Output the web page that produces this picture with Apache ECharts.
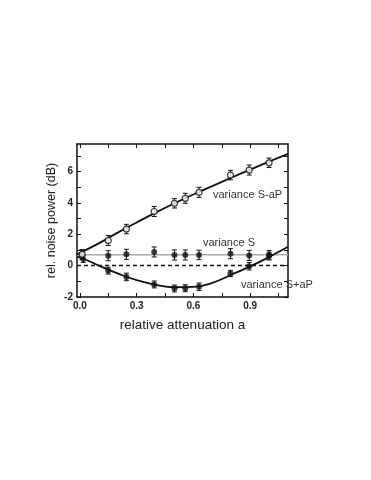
<html>
<head>
    <meta charset="utf-8">
    <script src="https://cdn.jsdelivr.net/npm/echarts@6/dist/echarts.min.js"></script>
    <style>
        body { margin: 0; background: #fff; }
        #main { width: 371px; height: 480px; }
    </style>
</head>
<body>
    <div id="main"></div>
    <script>
        // measured points (a, dB, error)
        var sMinusAP = [[0.012, 0.72, 0.3], [0.15, 1.6, 0.32], [0.246, 2.33, 0.3], [0.393, 3.45, 0.32], [0.5, 3.97, 0.3],
            [0.557, 4.29, 0.32], [0.63, 4.67, 0.32], [0.796, 5.77, 0.3], [0.895, 6.09, 0.32], [1.0, 6.55, 0.3]];
        var varS = [[0.012, 0.7, 0.3], [0.15, 0.63, 0.32], [0.246, 0.72, 0.32], [0.393, 0.87, 0.32], [0.5, 0.68, 0.32],
            [0.557, 0.68, 0.32], [0.63, 0.68, 0.3], [0.796, 0.76, 0.32], [0.895, 0.65, 0.32], [1.0, 0.66, 0.3]];
        var sPlusAP = [[0.018, 0.42, 0.22], [0.15, -0.32, 0.22], [0.246, -0.72, 0.24], [0.393, -1.2, 0.22], [0.5, -1.46, 0.22],
            [0.557, -1.44, 0.22], [0.63, -1.35, 0.24], [0.796, -0.5, 0.2], [0.895, -0.04, 0.24], [1.0, 0.63, 0.22]];

        // fitted curves
        var fitMinus = [[-0.015, 0.72], [0.1, 1.42], [0.2, 2.1], [0.3, 2.75], [0.4, 3.38], [0.5, 3.97], [0.6, 4.53],
            [0.7, 5.07], [0.8, 5.6], [0.9, 6.12], [1.0, 6.63], [1.1, 7.12]];
        var fitPlus = [[-0.015, 0.58], [0.05, 0.28], [0.1, 0.0], [0.2, -0.5], [0.3, -0.92], [0.4, -1.22], [0.5, -1.38],
            [0.6, -1.36], [0.7, -1.1], [0.8, -0.58], [0.9, -0.05], [1.0, 0.55], [1.1, 1.2]];
        var shotNoise = 0.7;

        var xLabels = [0, 0.3, 0.6, 0.9];
        var xTicks = [0, 0.15, 0.3, 0.45, 0.6, 0.75, 0.9, 1.05];
        var yLabels = [-2, 0, 2, 4, 6];
        var yTicks = [-2, -1, 0, 1, 2, 3, 4, 5, 6, 7];

        var chart = echarts.init(document.getElementById('main'));

        function errorBars(params, api) {
            var x = api.value(0), y = api.value(1), e = api.value(2);
            var hi = api.coord([x, y + e]);
            var lo = api.coord([x, y - e]);
            var w = 2.5;
            var st = { stroke: '#111', lineWidth: 1 };
            return {
                type: 'group',
                children: [
                    { type: 'line', shape: { x1: hi[0], y1: hi[1], x2: lo[0], y2: lo[1] }, style: st },
                    { type: 'line', shape: { x1: hi[0] - w, y1: hi[1], x2: hi[0] + w, y2: hi[1] }, style: st },
                    { type: 'line', shape: { x1: lo[0] - w, y1: lo[1], x2: lo[0] + w, y2: lo[1] }, style: st }
                ]
            };
        }

        var axisFont = { fontFamily: 'Liberation Sans', fontSize: 10, fontWeight: 'bold', color: '#222' };
        var frame = { show: true, onZero: false, lineStyle: { color: '#111', width: 1.5 } };

        var option = {
            animation: false,
            grid: { left: 77, right: 83, top: 144, bottom: 183 },
            xAxis: [{
                type: 'value', min: -0.015, max: 1.1,
                axisLine: frame,
                splitLine: { show: false },
                axisTick: { inside: true, length: 4, customValues: xTicks, lineStyle: { color: '#111' } },
                axisLabel: Object.assign({ customValues: xLabels, margin: 4, formatter: function (v) { return v.toFixed(1); } }, axisFont),
                name: 'relative attenuation a', nameLocation: 'middle', nameGap: 21,
                nameTextStyle: { fontFamily: 'Liberation Sans', fontSize: 13.5, color: '#222' }
            }, {
                type: 'value', position: 'top', min: -0.015, max: 1.1,
                axisLine: frame, splitLine: { show: false },
                axisTick: { inside: true, length: 4, customValues: xTicks, lineStyle: { color: '#111' } },
                axisLabel: { show: false }
            }],
            yAxis: [{
                type: 'value', min: -2, max: 7.75,
                axisLine: frame,
                splitLine: { show: false },
                axisTick: { inside: true, length: 4, customValues: yTicks, lineStyle: { color: '#111' } },
                axisLabel: Object.assign({ customValues: yLabels, margin: 4 }, axisFont),
                name: 'rel. noise power (dB)', nameLocation: 'middle', nameGap: 19, nameMoveOverlap: false,
                nameTextStyle: { fontFamily: 'Liberation Sans', fontSize: 12.5, color: '#222' }
            }, {
                type: 'value', position: 'right', min: -2, max: 7.75,
                axisLine: frame, splitLine: { show: false },
                axisTick: { inside: true, length: 4, customValues: yTicks, lineStyle: { color: '#111' } },
                axisLabel: { show: false }
            }],
            graphic: [
                { type: 'text', left: 213, top: 189, style: { text: 'variance S-aP', font: '11px "Liberation Sans"', fill: '#333' } },
                { type: 'text', left: 203, top: 237, style: { text: 'variance S', font: '11px "Liberation Sans"', fill: '#333' } },
                { type: 'text', left: 241, top: 279, z: 10, style: { text: 'variance S+aP', font: '11px "Liberation Sans"', fill: '#333' } }
            ],
            series: [
                {
                    type: 'line', data: [[-0.015, shotNoise], [1.1, shotNoise]], showSymbol: false, silent: true,
                    lineStyle: { color: '#aaa', width: 1.5 }, z: 1
                },
                {
                    type: 'line', data: [[-0.015, 0], [1.1, 0]], showSymbol: false, silent: true,
                    lineStyle: { color: '#111', width: 1.5, type: [4, 3] }, z: 1
                },
                {
                    type: 'line', data: fitMinus, smooth: true, showSymbol: false,
                    lineStyle: { color: '#111', width: 1.8 }, z: 2
                },
                {
                    type: 'line', data: fitPlus, smooth: true, showSymbol: false,
                    lineStyle: { color: '#111', width: 1.8 }, z: 2
                },
                { type: 'custom', data: sMinusAP, renderItem: errorBars, z: 3 },
                { type: 'custom', data: varS, renderItem: errorBars, z: 3 },
                { type: 'custom', data: sPlusAP, renderItem: errorBars, z: 3 },
                {
                    type: 'scatter', data: varS, symbol: 'circle', symbolSize: 6,
                    itemStyle: { color: '#111' }, z: 4
                },
                {
                    type: 'scatter', data: sPlusAP, symbol: 'circle', symbolSize: 6,
                    itemStyle: { color: '#111' }, z: 4
                },
                {
                    type: 'scatter', data: sMinusAP, symbol: 'circle', symbolSize: 6,
                    itemStyle: { color: '#fff', borderColor: '#111', borderWidth: 1.2 }, z: 5
                }
            ]
        };

        chart.setOption(option);

        window.onresize = function () {
            chart.resize();
        }
    </script>
</body>
</html>
